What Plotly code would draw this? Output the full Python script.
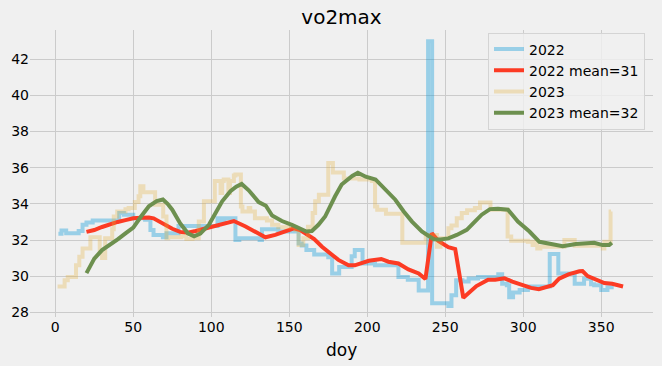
import plotly.graph_objects as go

# ---------------- data ----------------
# 2022 raw (step series: start doy of each level, level value)
doy_2022 = [2, 4, 7, 15, 17.5, 20, 24, 41, 44, 50, 57.6, 61, 63, 69, 71.3, 79,
            104, 106.5, 108.5, 115.5, 118, 131, 132.5, 143, 156, 158, 161, 166,
            175, 177.5, 182, 190, 192, 197, 205, 220, 226, 233, 239, 241.6, 252,
            254, 257, 261, 265, 271, 284, 286.5, 289.5, 291, 293.5, 297.7, 303,
            317, 322.5, 333, 339, 343.5, 345.5, 350, 354, 358]
vo2_2022 = [32.34, 32.52, 32.37, 32.5, 32.84, 32.97, 33.08, 33.49, 33.4, 33.2,
            33.12, 32.56, 32.28, 32.15, 32.37, 32.78, 33.2, 33.0, 33.2, 32.0,
            32.1, 32.0, 32.6, 32.47, 31.8, 31.7, 31.45, 31.2, 31.05, 30.15, 30.5,
            31.1, 31.45, 30.7, 30.6, 29.95, 29.8, 29.2, 43.0, 28.5, 28.35, 28.95,
            29.78, 29.7, 29.87, 29.95, 30.1, 29.58, 29.49, 28.83, 29.1, 29.24,
            29.43, 31.22, 30.14, 29.58, 29.86, 29.55, 29.49, 29.24, 29.39, 29.39]

# 2022 rolling mean
doy_2022_mean = [20, 25, 30, 35, 40, 45, 50, 55, 60, 63, 66, 70, 75, 80, 85, 90,
                 95, 100, 107, 114.5, 122, 128, 134.7, 141, 145, 150, 153, 157,
                 162, 166, 171, 176, 181.5, 188, 192, 201, 209, 213.6, 220, 226.4,
                 233, 237.3, 241.4, 245.6, 252, 256.4, 261.6, 270, 277.5, 282, 288,
                 293, 299, 305, 310, 316, 319, 323, 329, 336, 338, 341.3, 346, 352,
                 357, 364]
vo2_2022_mean = [32.45, 32.55, 32.72, 32.88, 33.0, 33.1, 33.2, 33.23, 33.25, 33.2,
                 33.05, 32.85, 32.62, 32.45, 32.4, 32.5, 32.62, 32.72, 32.88, 33.05,
                 32.75, 32.45, 32.15, 32.28, 32.4, 32.6, 32.65, 32.55, 32.3, 32.05,
                 31.63, 31.3, 30.9, 30.6, 30.6, 30.85, 30.95, 30.8, 30.7, 30.37,
                 30.15, 29.84, 32.37, 31.95, 31.6, 31.5, 28.8, 29.45, 29.8, 29.8,
                 29.88, 29.7, 29.5, 29.35, 29.28, 29.4, 29.5, 29.86, 30.1, 30.27,
                 30.28, 30.0, 29.85, 29.62, 29.58, 29.43]

# 2023 raw (step series)
doy_2023 = [1.5, 6, 8, 13.3, 15.4, 17.5, 22.5, 28.5, 30, 32, 36.5, 37.5, 39.7, 45,
            47, 51, 53.4, 54.5, 56.5, 64, 69.2, 71.3, 72.4, 80.8, 84, 88, 92, 95.3,
            102.3, 106, 107, 108, 111, 112, 114.5, 115.5, 119, 120, 124, 125, 128,
            135.7, 139, 143, 154, 156, 159, 162, 165, 166.6, 169, 175, 178, 185,
            195, 203, 205, 206.4, 212, 222.5, 237.5, 244.7, 247, 252, 254, 257.4,
            260.6, 264, 269, 272.3, 279, 290, 292.3, 303, 306, 308, 309, 311,
            326.4, 333, 351, 352, 356, 356.3]
vo2_2023 = [29.43, 29.77, 29.95, 30.6, 31.07, 31.53, 32.15, 31.25, 31.0, 32.1,
            32.6, 33.3, 33.58, 33.7, 33.77, 34.1, 34.42, 34.98, 34.64, 33.95,
            33.3, 32.1, 32.15, 32.22, 32.05, 32.1, 33.02, 34.14, 35.26, 34.6,
            35.26, 35.35, 34.6, 35.26, 35.57, 35.63, 33.86, 33.58, 33.77, 33.58,
            33.2, 33.08, 32.84, 32.7, 32.56, 31.72, 32.1, 32.74, 33.5, 34.14,
            34.5, 36.26, 35.74, 35.4, 35.35, 35.26, 33.86, 33.67, 33.45, 31.85,
            32.28, 31.63, 32.1, 32.65, 32.8, 33.2, 33.5, 33.64, 33.77, 34.08,
            33.67, 32.19, 31.96, 31.9, 31.72, 31.9, 31.53, 31.63, 32.0, 31.68,
            31.53, 31.9, 33.58, 33.58]

# 2023 rolling mean
doy_2023_mean = [20, 25, 30, 35, 40, 45, 50, 55, 60, 65, 69, 72, 75, 80, 85, 89,
                 93, 98.5, 102.8, 107, 112.3, 116, 119.5, 124, 130.4, 135, 139,
                 145.3, 151.7, 156, 161, 164.5, 168.7, 173, 176, 179.4, 183.6,
                 187.4, 190.4, 194, 199, 205.3, 211.7, 218, 223.4, 228.7, 235,
                 239.4, 242.6, 247, 252, 257.4, 263.8, 269, 273.4, 278.7, 283.8,
                 290.2, 296.6, 304, 310.4, 317.9, 325.3, 333.8, 345.5, 350.9,
                 355.1, 356.8]
vo2_2023_mean = [30.17, 30.97, 31.44, 31.72, 32.04, 32.37, 32.69, 33.3, 33.87,
                 34.15, 34.24, 34.0, 33.68, 32.93, 32.37, 32.2, 32.35, 32.84,
                 33.49, 34.14, 34.7, 34.95, 35.1, 34.75, 34.1, 33.9, 33.35, 33.05,
                 32.84, 32.65, 32.47, 32.5, 32.84, 33.3, 33.85, 34.42, 35.07,
                 35.35, 35.54, 35.72, 35.5, 35.35, 34.8, 34.23, 33.58, 33.02,
                 32.47, 32.22, 32.04, 32.03, 32.09, 32.28, 32.56, 33.02, 33.4,
                 33.71, 33.73, 33.68, 33.02, 32.47, 31.9, 31.78, 31.66, 31.78,
                 31.85, 31.72, 31.72, 31.85]

series_names = ["2022", "2022 mean=31", "2023", "2023 mean=32"]
x_ticks = [0, 50, 100, 150, 200, 250, 300, 350]
y_ticks = [28, 30, 32, 34, 36, 38, 40, 42]

# ---------------- figure ----------------
FONT = "DejaVu Sans"
BG = "#f0f0f0"

fig = go.Figure()
fig.add_trace(go.Scatter(x=doy_2022, y=vo2_2022, mode="lines", name=series_names[0],
                         line=dict(color="rgba(0,150,215,0.36)", width=4, shape="hv"),
                         hoverinfo="skip"))
fig.add_trace(go.Scatter(x=doy_2022_mean, y=vo2_2022_mean, mode="lines", name=series_names[1],
                         line=dict(color="#fc3b24", width=4), hoverinfo="skip"))
fig.add_trace(go.Scatter(x=doy_2023, y=vo2_2023, mode="lines", name=series_names[2],
                         line=dict(color="rgba(229,174,56,0.3)", width=4, shape="hv"),
                         hoverinfo="skip"))
fig.add_trace(go.Scatter(x=doy_2023_mean, y=vo2_2023_mean, mode="lines", name=series_names[3],
                         line=dict(color="#6d904f", width=4), hoverinfo="skip"))

L, R, T, B = 30, 9, 30, 49
W, H = 662, 366
ph = H - T - B

fig.update_layout(
    width=W, height=H,
    margin=dict(l=L, r=R, t=T, b=B, pad=0, autoexpand=False),
    paper_bgcolor=BG, plot_bgcolor=BG,
    font=dict(family=FONT, size=14, color="black"),
    title=dict(text="vo2max", x=0.5, xref="paper", xanchor="center",
               y=1 - 17 / H, yref="container", yanchor="middle",
               font=dict(family=FONT, size=20, color="black")),
    showlegend=True,
    legend=dict(x=(488 - L) / (W - L - R), y=1 - (32.5 - T) / ph,
                xanchor="left", yanchor="top",
                bgcolor="rgba(240,240,240,0.8)", bordercolor="#d4d4d4", borderwidth=1,
                font=dict(family=FONT, size=14, color="black"),
                tracegroupgap=0),
    annotations=[dict(text="doy", x=0.5, xref="paper", y=-(350 - (H - B)) / ph, yref="paper",
                      xanchor="center", yanchor="middle", showarrow=False,
                      font=dict(family=FONT, size=17, color="black"))],
)
fig.update_xaxes(range=[-16.2, 383.2], tickvals=x_ticks, showgrid=True, gridcolor="#cbcbcb",
                 gridwidth=1, zeroline=False, showline=False, ticks="", automargin=False,
                 tickfont=dict(family=FONT, size=14, color="black"))
fig.update_yaxes(range=[27.74, 43.62], tickvals=y_ticks, showgrid=True, gridcolor="#cbcbcb",
                 gridwidth=1, zeroline=False, showline=False, ticks="", automargin=False,
                 tickfont=dict(family=FONT, size=14, color="black"))

fig.write_html(
    "out.html",
    config={"displayModeBar": False},
    post_script="document.body.style.margin='0';document.body.style.background='#f0f0f0';"
                "document.body.style.overflow='hidden';",
)
